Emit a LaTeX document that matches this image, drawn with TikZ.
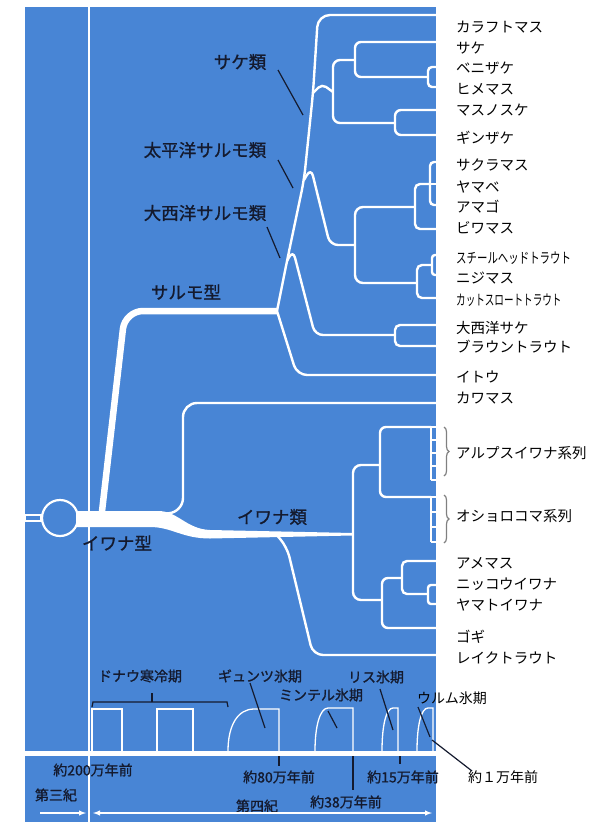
\documentclass[tikz,border=0pt]{standalone}
\usepackage{fontspec}
\setmainfont{Noto Sans CJK JP}
\newfontfamily\jpbold[FakeBold=1.1]{Noto Sans CJK JP}
\usetikzlibrary{calc,arrows,decorations.pathreplacing}
\tikzset{>=latex}
\definecolor{panel}{RGB}{72,133,213}
\definecolor{ink}{RGB}{20,26,46}

\begin{document}
\begin{tikzpicture}[x=1pt,y=-1pt,
    br/.style={draw=white,line width=2.4pt,rounded corners=6pt},
    age/.style={draw=white,line width=1.3pt},
    lead/.style={draw=ink,line width=1.2pt},
    sp/.style={anchor=west,inner sep=0pt,text=black,font=\fontsize{14.5}{15}\selectfont},
    grp/.style={inner sep=0pt,text=ink,font=\jpbold\fontsize{17.5}{18}\selectfont},
    era/.style={inner sep=0pt,text=ink,font=\jpbold\fontsize{14}{15}\selectfont}]
  \useasboundingbox (0,0) rectangle (616,825);
  \fill[panel] (25,7) rectangle (436,822);
  \fill[white] (25,751) rectangle (436,756);
  \draw[white,line width=1.6pt] (89,7) -- (89,822);

  % leaves at the right edge
  \foreach \n/\y in {kara/15,sake/42,beni/67,hime/87,masu/110,gin/135,
      sakura/162,yamabe/184,amago/205,biwa/229,steel/255,niji/275,cut/298,
      atsake/325,brown/346,itou/375,kawa/403,ame/561,nikko/585,yamato/604,
      gogi/628,lake/655}
    \coordinate (l-\n) at (436,\y);

  % branch points
  \coordinate (R0) at (277,311);
  \coordinate (T1) at (287,261);
  \coordinate (T2) at (304,180);
  \coordinate (S) at (313,93);
  \coordinate (I) at (333,92);
  \coordinate (H) at (355,60);
  \coordinate (G) at (428,77);
  \coordinate (J) at (395,123);
  \coordinate (K) at (355,245);
  \coordinate (D) at (415,207);
  \coordinate (C) at (430,184);
  \coordinate (F) at (417,283);
  \coordinate (E) at (432,265);
  \coordinate (A) at (395,335);
  \coordinate (Kw0) at (160,514);
  \coordinate (Lk0) at (275,533);
  \coordinate (L) at (353,533);
  \coordinate (M) at (380,465);
  \coordinate (N) at (382,600);
  \coordinate (O) at (402,578);
  \coordinate (P) at (428,594);
  \coordinate (alps) at (431,427);
  \coordinate (osh) at (431,497);

  % root and thick stems
  \node[circle,draw=white,line width=2.2pt,fill=panel,minimum size=36pt,inner sep=0pt] (root) at (60,518) {};
  \draw[white,line width=1.4pt] (25,515) rectangle (root.west |- 0,521);
  \fill[white] (76,511) -- (158,511) .. controls (178,511) and (186,529) .. (210,530)
    -- (L) -- (352,535.5) -- (210,538.5) .. controls (182,538.5) and (172,527) .. (150,527)
    -- (76,527) -- cycle;
  \draw[white,line width=6.5pt,rounded corners=18pt] (101,520) -- (125,311) -- (R0);

  % salmo
  \draw[br,rounded corners=12pt] (R0) -- (T1) -- (T2) -- (S) -- (318,15) -- (l-kara);
  \draw[br,rounded corners=10pt] (R0) -- (297,375) -- (l-itou);
  \draw[br,rounded corners=5pt] (S) -- (322,84) -- (I);
  \draw[br,rounded corners=7pt] (H) -| (I) |- (J);
  \draw[br] (l-sake) -| (H) |- (G);
  \draw[br,rounded corners=4pt] (l-beni) -| (G) |- (l-hime);
  \draw[br] (l-masu) -| (J) |- (l-gin);
  \draw[br,rounded corners=8pt] (T2) -- (311,168) -- (330,245) -- (K);
  \draw[br,rounded corners=8pt] (D) -| (K) |- (F);
  \draw[br,rounded corners=5pt] (C) -| (D) |- (l-biwa);
  \draw[br,rounded corners=4pt] (l-sakura) -| (C) |- (l-amago);
  \draw[br] (C) -- (l-yamabe);
  \draw[br,rounded corners=5pt] (E) -| (F) |- (l-cut);
  \draw[br,rounded corners=3pt] (l-steel) -| (E) |- (l-niji);
  \draw[br,rounded corners=8pt] (T1) -- (293,250) -- (315,335) -- (A);
  \draw[br,rounded corners=5pt] (l-atsake) -| (A) |- (l-brown);

  % iwana
  \draw[br,rounded corners=14pt] (Kw0) -- (183,512) -- (183,403) -- (l-kawa);
  \draw[br,rounded corners=10pt] (Lk0) -- (287,547) -- (313,655) -- (l-lake);
  \draw[br,rounded corners=8pt] (M) -| (L) |- (N);
  \draw[br] (alps) -| (M) |- (osh);
  \draw[white,line width=1.8pt] (alps) -- (431,480);
  \draw[white,line width=1.8pt] (osh) -- (431,542);
  \foreach \t in {427,440,453,466,480,497,512,527,542}
    \draw[white,line width=1.8pt] (431,\t) -- (436,\t);
  \draw[br] (O) -| (N) |- (l-gogi);
  \draw[br,rounded corners=5pt] (l-ame) -| (O) |- (P);
  \draw[br,rounded corners=3pt] (l-nikko) -| (P) |- (l-yamato);
  \draw[gray,line width=1.2pt,decorate,decoration={brace,amplitude=5pt}] (444,427) -- (444,476);
  \draw[gray,line width=1.2pt,decorate,decoration={brace,amplitude=5pt}] (444,495) -- (444,543);

  % group labels
  \node[grp] (sakerui) at (240,62) {サケ類};
  \node[grp] (taihei) at (205,150) {太平洋サルモ類};
  \node[grp] (taisei) at (205,213) {大西洋サルモ類};
  \node[grp] (salmo) at (186,292) {サルモ型};
  \node[grp] (iwanarui) at (272,517) {イワナ類};
  \node[grp] (iwanagata) at (117,543) {イワナ型};
  \coordinate (c-sake) at (303,115);
  \coordinate (c-taihei) at (293,188);
  \coordinate (c-taisei) at (280,258);
  \draw[lead] (278,70) -- (c-sake);
  \draw[lead] (278,160) -- (c-taihei);
  \draw[lead] (267,227) -- (c-taisei);

  % species
  \node[sp] (karafuto) at (456,27) {カラフトマス};
  \node[sp] (sake) at (456,48) {サケ};
  \node[sp] (benizake) at (456,68) {ベニザケ};
  \node[sp] (himemasu) at (456,89) {ヒメマス};
  \node[sp] (masunosuke) at (456,110) {マスノスケ};
  \node[sp] (ginzake) at (456,138) {ギンザケ};
  \node[sp] (sakuramasu) at (456,165) {サクラマス};
  \node[sp] (yamabe) at (456,187) {ヤマベ};
  \node[sp] (amago) at (456,207) {アマゴ};
  \node[sp] (biwamasu) at (456,228) {ビワマス};
  \node[sp] (steelhead) at (456,258) {\scalebox{0.72}[1]{スチールヘッドトラウト}};
  \node[sp] (nijimasu) at (456,278) {ニジマス};
  \node[sp] (cutthroat) at (456,300) {\scalebox{0.66}[1]{カットスロートトラウト}};
  \node[sp] (taiseisake) at (456,328) {大西洋サケ};
  \node[sp] (brown) at (456,347) {ブラウントラウト};
  \node[sp] (itou) at (456,377) {イトウ};
  \node[sp] (kawamasu) at (456,398) {カワマス};
  \node[sp] (alpsiwana) at (456,453) {アルプスイワナ系列};
  \node[sp] (oshorokoma) at (456,516) {オショロコマ系列};
  \node[sp] (amemasu) at (456,563) {アメマス};
  \node[sp] (nikko) at (456,584) {ニッコウイワナ};
  \node[sp] (yamato) at (456,605) {ヤマトイワナ};
  \node[sp] (gogi) at (456,637) {ゴギ};
  \node[sp] (lake) at (456,658) {レイクトラウト};

  % ice ages
  \draw[age] (92,751) |- (122,709) -- (122,751);
  \draw[age] (157,751) |- (193,709) -- (193,751);
  \draw[age] (228,751) .. controls (228,725) and (238,709) .. (254,709) -- (279,709) -- (279,751);
  \draw[age] (315,751) .. controls (315,726) and (320,708) .. (328,708) -- (353,708) -- (353,751);
  \draw[age] (382,751) .. controls (382,726) and (386,708) .. (393,708) -- (398,708) -- (398,751);
  \draw[age] (417,751) .. controls (417,726) and (421,708) .. (428,708) -- (433,708) -- (433,751);
  \draw[lead] (92,707) -- (93,702) -- (227,702) -- (228,707);
  \draw[lead] (152,702) -- (152,693);
  \node[era] (donau) at (140,676) {ドナウ寒冷期};
  \node[era] (gunz) at (260,676) {ギュンツ氷期};
  \node[era] (mindel) at (321,695) {ミンテル氷期};
  \node[era] (riss) at (376,677) {リス氷期};
  \node[sp,font=\fontsize{14}{15}\selectfont] (wurm) at (417,698) {ウルム氷期};
  \draw[lead] (250,683) -- (265,728);
  \draw[lead] (328,711) -- (337,728);
  \draw[lead] (380,689) -- (393,730);
  \draw[lead] (418,707) -- (430,737);
  \draw[lead] (432,740) -- (472,771);
  \draw[lead] (279,756) -- (279,766);
  \draw[lead] (353,756) -- (353,790);
  \draw[lead] (400,756) -- (400,764);
  \node[era] (y200) at (93,770) {約200万年前};
  \node[era] (y80) at (279,777) {約80万年前};
  \node[era] (y38) at (346,802) {約38万年前};
  \node[era] (y15) at (403,777) {約15万年前};
  \node[sp,font=\fontsize{14}{15}\selectfont] (y1) at (468,777) {約１万年前};
  \node[era] (tertiary) at (56,795) {第三紀};
  \node[era] (quaternary) at (257,806) {第四紀};
  \draw[white,line width=1.4pt,-latex] (40,813) -- (86,813);
  \draw[white,line width=1.4pt,latex-latex] (93,813) -- (432,813);
\end{tikzpicture}
\end{document}
